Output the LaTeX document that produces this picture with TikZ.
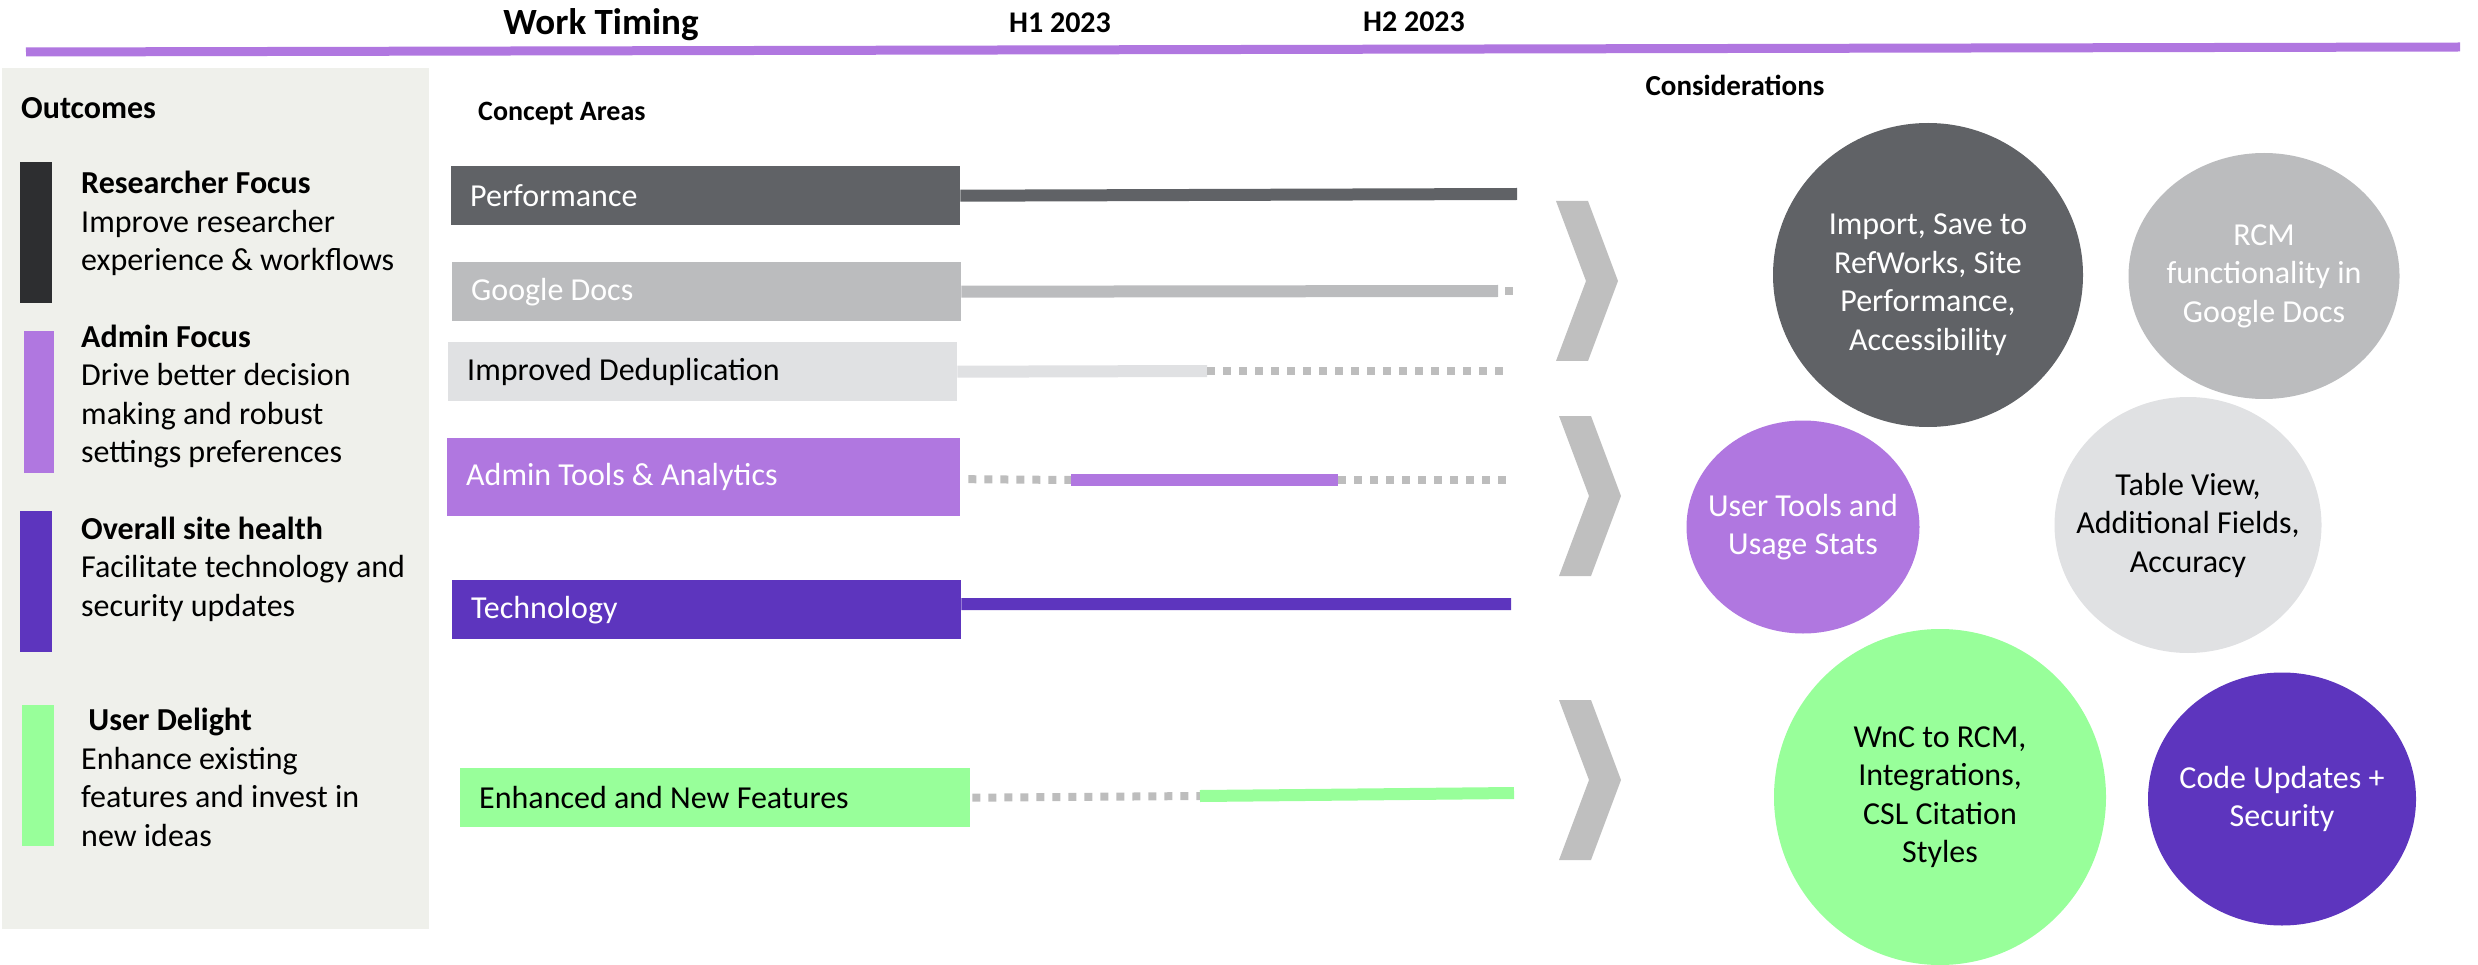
\documentclass[tikz,border=0pt]{standalone}
\usepackage{fontspec}
\setmainfont{Carlito}
\usetikzlibrary{shapes.geometric,positioning}
\definecolor{slate}{HTML}{606266}
\definecolor{silver}{HTML}{BBBCBE}
\definecolor{mist}{HTML}{E0E1E3}
\definecolor{lilac}{HTML}{B077E0}
\definecolor{violet}{HTML}{5D35BE}
\definecolor{mint}{HTML}{98FF9A}
\definecolor{charcoal}{HTML}{2D2E30}
\definecolor{panel}{HTML}{EFF0EB}
\definecolor{chevgrey}{HTML}{BFBFBF}
\definecolor{dashgrey}{HTML}{BDBDBD}
\begin{document}
\begin{tikzpicture}[x=1pt,y=-1pt] % pixel grid, y grows downwards
\tikzset{areabox/.style={rectangle, anchor=north west, inner xsep=19pt, inner ysep=0pt, minimum height=59pt, text width=471pt, align=flush left, font=\fontsize{32}{38.5}\selectfont}}
\tikzset{bar/.style={line width=12pt}}
\tikzset{dashbar/.style={line width=8pt, draw=dashgrey, dash pattern=on 8pt off 8pt}}
\tikzset{chev/.style={fill=chevgrey}}
\tikzset{idea/.style={ellipse, inner xsep=-20pt, inner ysep=0pt, align=center, font=\fontsize{32}{38.5}\selectfont}} % size from minimum width/height only
\tikzset{legend/.style={anchor=base west, align=left, inner sep=0pt, font=\fontsize{32}{38.5}\selectfont}} % base = last line
\tikzset{head/.style={inner sep=0pt, font=\bfseries\fontsize{30}{36}\selectfont}}
\useasboundingbox (0,0) rectangle (2478,965);
% header
\draw[lilac, line width=9pt] (26,52) -- (2460,47);
\node[head, font=\bfseries\fontsize{37}{40}\selectfont] (worktiming) at (601,25) {Work Timing};
\node[head] (h1) at (1060,23) {H1 2023};
\node[head] (h2) at (1414,22) {H2 2023};
\node[head, font=\bfseries\fontsize{29}{34}\selectfont] (consid) at (1735,85) {Considerations};
% outcomes panel
\fill[panel] (2,68) rectangle (429,929);
\node[head, anchor=west, font=\bfseries\fontsize{32}{36}\selectfont] (outcomes) at (21,108) {Outcomes};
\fill[charcoal] (20,162) rectangle (52,303);
\fill[lilac] (24,331) rectangle (54,473);
\fill[violet] (20,511) rectangle (52,652);
\fill[mint] (22,705) rectangle (54,846);
\node[legend] (researcher) at (81,271) {\textbf{Researcher Focus}\\Improve researcher\\experience \& workflows};
\node[legend] (adminfocus) at (81,462.5) {\textbf{Admin Focus}\\Drive better decision\\making and robust\\settings preferences};
\node[legend] (sitehealth) at (81,616) {\textbf{Overall site health}\\Facilitate technology and\\security updates};
\node[legend] (delight) at (81,846) {~\textbf{User Delight}\\Enhance existing\\features and invest in\\new ideas};
% concept areas
\node[head, anchor=west, font=\bfseries\fontsize{28}{34}\selectfont] (concept) at (478,114) {Concept Areas};
\node[areabox, fill=slate, text=white] (perf) at (451,166) {Performance};
\node[areabox, fill=silver, text=white] (gdocs) at (452,262) {Google Docs};
\node[areabox, fill=mist] (dedup) at (448,342) {Improved Deduplication};
\node[areabox, fill=lilac, text=white, text width=475pt, minimum height=78pt] (admin) at (447,438) {Admin Tools \& Analytics};
\node[areabox, fill=violet, text=white] (tech) at (452,580) {Technology};
\node[areabox, fill=mint, text width=472pt] (enh) at (460,768) {Enhanced and New Features};
% timing bars
\coordinate (perfend) at (1517,194);
\coordinate (gdocsend) at (1498,291);
\coordinate (dedupmid) at (1207,371);
\coordinate (dedupend) at (1503,371);
\coordinate (adminA) at (1071,480);
\coordinate (adminB) at (1338,480);
\coordinate (adminend) at (1507,480);
\coordinate (techend) at (1511,604);
\coordinate (enhA) at (1200,796);
\coordinate (enhend) at (1514,793);
\draw[bar, slate] (perf.east) -- (perfend);
\draw[bar, silver] (gdocs.east) -- (gdocsend);
\draw[dashbar] ([xshift=7pt]gdocsend) -- ++(8,0);
\draw[bar, mist] (dedup.east) -- (dedupmid);
\draw[dashbar] (dedupmid) -- (dedupend);
\draw[dashbar] ([xshift=8pt,yshift=-2pt]admin.east) -- (adminA);
\draw[bar, lilac] (adminA) -- (adminB);
\draw[dashbar] (adminB) -- (adminend);
\draw[bar, violet] ([yshift=5.5pt]tech.east) -- (techend);
\draw[dashbar] ([xshift=2pt]enh.east) -- (enhA);
\draw[bar, mint] (enhA) -- (enhend);
% chevrons
\foreach \cx/\cy in {1556/201, 1559/416, 1559/700}
  \fill[chev] (\cx,\cy) -- ++(32,0) -- ++(30,80) -- ++(-30,80) -- ++(-32,0) -- ++(30,-80) -- cycle;
% considerations
\node[idea, fill=slate, text=white, minimum width=310pt, minimum height=304pt] (import) at (1928,275) {\rule{0pt}{40pt}Import, Save to\\RefWorks, Site\\Performance,\\Accessibility};
\node[idea, fill=silver, text=white, minimum width=271pt, minimum height=246pt] (rcm) at (2264,276) {RCM\\functionality in\\Google Docs};
\node[idea, fill=lilac, text=white, minimum width=233pt, minimum height=213pt] (usertools) at (1803,527) {User Tools and\\Usage Stats};
\node[idea, fill=mist, minimum width=267pt, minimum height=256pt] (tableview) at (2188,525) {Table View,\\Additional Fields,\\Accuracy};
\node[idea, fill=mint, minimum width=332pt, minimum height=336pt] (wnc) at (1940,797) {WnC to RCM,\\Integrations,\\CSL Citation\\Styles};
\node[idea, fill=violet, text=white, minimum width=268pt, minimum height=253pt] (codeupd) at (2282,799) {Code Updates +\\Security};
\end{tikzpicture}
\end{document}
